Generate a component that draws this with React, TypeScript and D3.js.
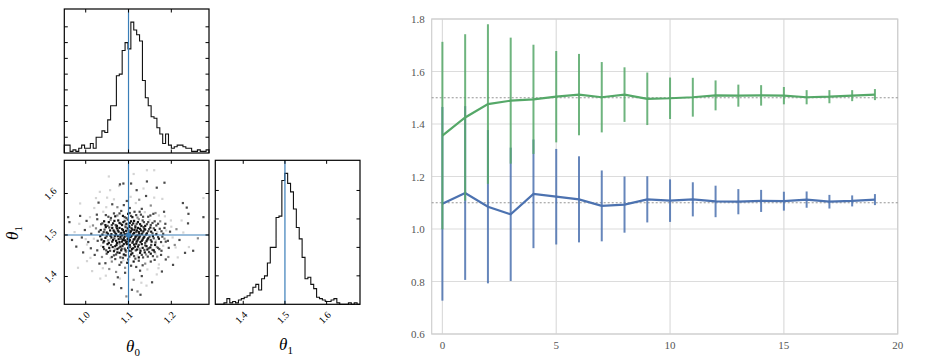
import * as d3 from 'd3';

// ---- right panel: running estimates with error bars ----
const STEPS = [0, 1, 2, 3, 4, 5, 6, 7, 8, 9, 10, 11, 12, 13, 14, 15, 16, 17, 18, 19];
const THETA1_MEAN = [1.356, 1.425, 1.476, 1.489, 1.494, 1.504, 1.512, 1.502, 1.512, 1.496, 1.498, 1.502, 1.509, 1.508, 1.509, 1.508, 1.502, 1.504, 1.508, 1.512];
const THETA1_ERR = [0.357, 0.317, 0.304, 0.24, 0.208, 0.174, 0.155, 0.134, 0.104, 0.1, 0.079, 0.074, 0.057, 0.042, 0.039, 0.033, 0.027, 0.025, 0.021, 0.021];
const THETA0_MEAN = [1.096, 1.137, 1.085, 1.056, 1.134, 1.123, 1.113, 1.088, 1.093, 1.113, 1.108, 1.113, 1.105, 1.104, 1.107, 1.106, 1.112, 1.104, 1.107, 1.112];
const THETA0_ERR = [0.369, 0.331, 0.292, 0.254, 0.207, 0.182, 0.164, 0.135, 0.107, 0.088, 0.081, 0.065, 0.06, 0.048, 0.042, 0.036, 0.031, 0.026, 0.021, 0.021];
const X_TICKS = [0, 5, 10, 15, 20];
const Y_TICKS = [0.6, 0.8, 1.0, 1.2, 1.4, 1.6, 1.8];
const TRUTHS = [1.1, 1.5];

// ---- corner plot ----
const RANGE0: [number, number] = [0.95, 1.288];
const RANGE1: [number, number] = [1.333, 1.68];
const HIST0 = [5, 5, 1, 2, 1, 3, 5, 3, 3, 6, 3, 10, 10, 14, 13, 21, 30, 30, 49, 50, 65, 70, 66, 83, 78, 75, 71, 46, 35, 30, 23, 22, 16, 12, 6, 12, 5, 3, 4, 5, 5, 4, 3, 3, 1, 1, 2, 1, 1, 2];
const HIST1 = [0, 0, 0, 1, 4, 1, 2, 1, 3, 4, 5, 6, 8, 12, 14, 10, 18, 20, 29, 40, 40, 61, 62, 87, 92, 85, 79, 67, 54, 46, 33, 18, 19, 14, 11, 5, 4, 3, 2, 2, 3, 4, 1, 0, 0, 0, 1, 0, 1, 0];
const TICKS0 = [1.0, 1.1, 1.2];
const TICKS1 = [1.4, 1.5, 1.6];
const COUNT_TICKS0 = [10, 20, 30, 40, 50, 60, 70, 80];
const COUNT_TICKS1 = [20, 40, 60, 80];

// samples: [theta0, theta1, shade 0..3]
const SAMPLES: [number, number, number][] = [
  [1.095, 1.352, 1], [1.128, 1.356, 2], [1.083, 1.372, 2], [1.108, 1.368, 2], [1.121, 1.364, 1], [1.142, 1.378, 0], [1.066, 1.381, 2], [1.155, 1.386, 2], [1.034, 1.395, 0],
  [1.047, 1.402, 0], [1.075, 1.398, 2], [1.112, 1.392, 1], [1.166, 1.405, 0], [1.178, 1.412, 2], [1.015, 1.413, 0], [1.092, 1.409, 2], [1.131, 1.401, 2], [1.204, 1.428, 2], [1.055, 1.418, 1], [1.144, 1.417, 0], [1.118, 1.423, 2], [0.982, 1.421, 0],
  [1.032, 1.431, 2], [1.061, 1.436, 1], [1.079, 1.428, 2], [1.097, 1.433, 3], [1.106, 1.426, 2], [1.124, 1.438, 2], [1.139, 1.431, 1], [1.152, 1.436, 2], [1.171, 1.429, 0], [1.187, 1.441, 2], [1.003, 1.437, 0], [1.069, 1.442, 2], [1.088, 1.439, 0], [1.215, 1.446, 0], [1.251, 1.462, 2],
  [1.021, 1.452, 2], [1.038, 1.447, 1], [1.049, 1.455, 2], [1.058, 1.444, 0], [1.066, 1.451, 2], [1.074, 1.458, 3], [1.081, 1.446, 2], [1.089, 1.453, 3], [1.094, 1.459, 1], [1.102, 1.448, 2], [1.109, 1.456, 3], [1.116, 1.443, 2], [1.121, 1.451, 0], [1.127, 1.457, 3], [1.134, 1.446, 2], [1.141, 1.453, 1], [1.148, 1.459, 2], [1.157, 1.449, 2], [1.163, 1.455, 0], [1.176, 1.452, 2], [1.193, 1.447, 1], [1.232, 1.457, 2], [0.994, 1.458, 2], [1.011, 1.445, 0], [1.099, 1.441, 2],
  [1.012, 1.468, 2], [1.027, 1.463, 2], [1.036, 1.474, 0], [1.043, 1.466, 2], [1.051, 1.478, 3], [1.057, 1.462, 2], [1.063, 1.471, 3], [1.068, 1.465, 1], [1.072, 1.476, 3], [1.077, 1.469, 2], [1.083, 1.463, 3], [1.086, 1.474, 3], [1.091, 1.467, 2], [1.096, 1.478, 3], [1.101, 1.462, 3], [1.104, 1.471, 2], [1.108, 1.466, 3], [1.113, 1.477, 3], [1.117, 1.463, 2], [1.122, 1.472, 3], [1.126, 1.467, 1], [1.131, 1.478, 3], [1.137, 1.464, 2], [1.142, 1.473, 3], [1.147, 1.468, 2], [1.153, 1.476, 2], [1.159, 1.463, 3], [1.166, 1.471, 1], [1.172, 1.466, 2], [1.181, 1.474, 0], [1.194, 1.469, 2], [1.208, 1.476, 1], [0.978, 1.472, 2], [1.003, 1.477, 0], [1.241, 1.471, 0], [1.079, 1.479, 1], [1.118, 1.479, 3],
  [0.968, 1.488, 2], [0.991, 1.494, 2], [1.006, 1.483, 2], [1.019, 1.491, 0], [1.028, 1.486, 2], [1.034, 1.497, 3], [1.041, 1.482, 2], [1.046, 1.493, 3], [1.052, 1.487, 1], [1.058, 1.498, 3], [1.062, 1.484, 3], [1.067, 1.492, 2], [1.071, 1.486, 3], [1.075, 1.497, 3], [1.079, 1.483, 3], [1.083, 1.491, 2], [1.087, 1.488, 3], [1.091, 1.496, 3], [1.094, 1.482, 3], [1.098, 1.49, 3], [1.102, 1.485, 3], [1.105, 1.495, 3], [1.109, 1.481, 2], [1.112, 1.489, 3], [1.116, 1.494, 3], [1.119, 1.484, 3], [1.123, 1.491, 3], [1.127, 1.497, 2], [1.131, 1.486, 3], [1.135, 1.493, 3], [1.139, 1.481, 2], [1.144, 1.489, 3], [1.149, 1.496, 2], [1.154, 1.484, 3], [1.159, 1.492, 2], [1.164, 1.487, 0], [1.169, 1.495, 2], [1.176, 1.483, 2], [1.184, 1.491, 1], [1.192, 1.486, 2], [1.203, 1.494, 0], [1.219, 1.488, 2], [1.262, 1.492, 1], [1.057, 1.489, 0], [1.085, 1.499, 3], [1.121, 1.499, 3], [1.097, 1.497, 2],
  [0.974, 1.507, 0], [0.998, 1.512, 2], [1.013, 1.503, 2], [1.024, 1.516, 1], [1.031, 1.508, 2], [1.039, 1.501, 3], [1.044, 1.513, 2], [1.049, 1.506, 3], [1.055, 1.518, 2], [1.06, 1.502, 3], [1.065, 1.511, 3], [1.069, 1.505, 2], [1.073, 1.516, 3], [1.077, 1.508, 3], [1.081, 1.501, 3], [1.085, 1.514, 3], [1.089, 1.507, 3], [1.093, 1.519, 2], [1.096, 1.503, 3], [1.1, 1.511, 3], [1.104, 1.506, 3], [1.107, 1.516, 3], [1.111, 1.502, 3], [1.114, 1.512, 3], [1.118, 1.507, 2], [1.122, 1.517, 3], [1.125, 1.503, 3], [1.129, 1.511, 3], [1.133, 1.506, 2], [1.137, 1.515, 3], [1.141, 1.501, 3], [1.146, 1.509, 2], [1.151, 1.518, 3], [1.156, 1.504, 2], [1.162, 1.512, 3], [1.167, 1.507, 0], [1.173, 1.515, 2], [1.181, 1.503, 2], [1.188, 1.511, 0], [1.197, 1.508, 2], [1.212, 1.514, 1], [1.228, 1.506, 0], [1.071, 1.519, 1], [1.102, 1.519, 3], [1.135, 1.519, 2],
  [0.962, 1.531, 2], [0.985, 1.527, 0], [1.002, 1.534, 2], [1.017, 1.523, 1], [1.027, 1.538, 2], [1.036, 1.526, 2], [1.043, 1.533, 3], [1.051, 1.522, 2], [1.058, 1.536, 1], [1.064, 1.528, 3], [1.07, 1.524, 2], [1.076, 1.535, 3], [1.082, 1.527, 2], [1.088, 1.531, 3], [1.093, 1.523, 1], [1.098, 1.537, 2], [1.103, 1.529, 3], [1.108, 1.524, 2], [1.113, 1.534, 3], [1.119, 1.527, 2], [1.124, 1.538, 1], [1.13, 1.522, 3], [1.136, 1.531, 2], [1.143, 1.526, 2], [1.149, 1.536, 0], [1.156, 1.529, 2], [1.165, 1.523, 2], [1.174, 1.533, 1], [1.186, 1.527, 2], [1.199, 1.535, 0], [1.224, 1.535, 0], [1.239, 1.528, 2],
  [0.959, 1.543, 2], [0.987, 1.546, 2], [1.01, 1.543, 0], [1.026, 1.549, 2], [1.041, 1.556, 0], [1.053, 1.544, 2], [1.066, 1.552, 2], [1.074, 1.547, 1], [1.083, 1.558, 2], [1.091, 1.543, 2], [1.099, 1.551, 3], [1.106, 1.546, 2], [1.114, 1.556, 2], [1.121, 1.542, 1], [1.129, 1.549, 2], [1.138, 1.555, 0], [1.146, 1.544, 2], [1.158, 1.551, 2], [1.171, 1.547, 0], [1.24, 1.551, 2], [1.275, 1.543, 2], [1.183, 1.556, 2],
  [0.987, 1.576, 0], [1.03, 1.578, 2], [1.048, 1.567, 0], [1.074, 1.567, 1], [1.089, 1.572, 2], [1.103, 1.565, 2], [1.117, 1.577, 0], [1.131, 1.563, 2], [1.152, 1.571, 1], [1.227, 1.577, 2], [1.236, 1.566, 2], [1.062, 1.574, 2],
  [1.024, 1.589, 0], [1.066, 1.586, 0], [1.096, 1.582, 2], [1.105, 1.592, 0], [1.141, 1.594, 2], [1.125, 1.585, 1], [1.275, 1.589, 0], [1.179, 1.587, 0],
  [1.033, 1.604, 0], [1.057, 1.608, 0], [1.08, 1.622, 2], [1.088, 1.624, 2], [1.078, 1.618, 0], [1.106, 1.624, 2], [1.119, 1.608, 2], [1.166, 1.614, 2], [1.143, 1.629, 2], [1.184, 1.626, 2], [1.135, 1.612, 0],
  [1.054, 1.641, 0], [1.143, 1.656, 0], [1.16, 1.656, 0], [1.112, 1.647, 0],
  // dense core
  [1.052, 1.459, 3], [1.061, 1.447, 2], [1.071, 1.453, 2], [1.079, 1.457, 3], [1.087, 1.445, 2], [1.093, 1.451, 3], [1.106, 1.453, 3], [1.113, 1.449, 2], [1.124, 1.446, 3], [1.131, 1.452, 2], [1.138, 1.458, 3], [1.145, 1.448, 2], [1.152, 1.455, 3], [1.161, 1.459, 2], [1.167, 1.448, 1],
  [1.041, 1.471, 3], [1.048, 1.463, 2], [1.055, 1.469, 3], [1.059, 1.476, 2], [1.066, 1.461, 3], [1.069, 1.473, 3], [1.074, 1.466, 3], [1.081, 1.472, 3], [1.084, 1.467, 2], [1.089, 1.478, 3], [1.093, 1.463, 3], [1.099, 1.469, 3], [1.103, 1.476, 3], [1.106, 1.461, 2], [1.111, 1.468, 3], [1.115, 1.472, 3], [1.12, 1.465, 3], [1.124, 1.476, 2], [1.128, 1.462, 3], [1.133, 1.469, 3], [1.139, 1.475, 2], [1.144, 1.465, 3], [1.151, 1.47, 3], [1.156, 1.464, 2], [1.162, 1.476, 3], [1.169, 1.469, 2], [1.177, 1.462, 2],
  [1.037, 1.489, 3], [1.043, 1.485, 3], [1.049, 1.497, 2], [1.054, 1.481, 3], [1.06, 1.494, 3], [1.064, 1.488, 3], [1.068, 1.498, 3], [1.073, 1.481, 3], [1.077, 1.49, 3], [1.081, 1.495, 3], [1.085, 1.484, 3], [1.089, 1.492, 3], [1.092, 1.487, 3], [1.096, 1.484, 3], [1.1, 1.493, 3], [1.103, 1.488, 3], [1.107, 1.498, 3], [1.11, 1.484, 3], [1.114, 1.49, 3], [1.117, 1.497, 3], [1.121, 1.487, 3], [1.125, 1.494, 3], [1.128, 1.483, 3], [1.133, 1.489, 3], [1.137, 1.496, 3], [1.142, 1.485, 3], [1.146, 1.492, 3], [1.152, 1.488, 2], [1.157, 1.497, 3], [1.163, 1.482, 2], [1.171, 1.491, 3], [1.179, 1.496, 2], [1.187, 1.484, 2],
  [1.035, 1.512, 3], [1.042, 1.507, 2], [1.047, 1.519, 3], [1.052, 1.503, 3], [1.057, 1.511, 3], [1.062, 1.517, 3], [1.067, 1.508, 3], [1.071, 1.502, 3], [1.075, 1.511, 3], [1.079, 1.517, 3], [1.083, 1.505, 3], [1.087, 1.512, 3], [1.091, 1.502, 3], [1.094, 1.51, 3], [1.098, 1.516, 3], [1.102, 1.501, 3], [1.106, 1.509, 3], [1.109, 1.513, 3], [1.113, 1.505, 3], [1.116, 1.518, 3], [1.12, 1.511, 3], [1.124, 1.507, 3], [1.127, 1.515, 3], [1.131, 1.502, 3], [1.135, 1.509, 3], [1.139, 1.513, 3], [1.143, 1.504, 3], [1.148, 1.514, 2], [1.153, 1.508, 3], [1.159, 1.516, 2], [1.165, 1.502, 3], [1.177, 1.509, 2], [1.184, 1.517, 2],
  [1.039, 1.528, 2], [1.046, 1.524, 3], [1.054, 1.531, 3], [1.061, 1.524, 2], [1.067, 1.534, 3], [1.073, 1.522, 3], [1.079, 1.529, 3], [1.085, 1.524, 3], [1.091, 1.534, 2], [1.095, 1.527, 3], [1.101, 1.522, 3], [1.106, 1.533, 3], [1.111, 1.528, 3], [1.116, 1.522, 2], [1.122, 1.531, 3], [1.127, 1.526, 3], [1.133, 1.535, 2], [1.139, 1.522, 3], [1.146, 1.531, 2], [1.152, 1.524, 2], [1.161, 1.533, 2], [1.169, 1.527, 2],
  [1.047, 1.548, 2], [1.059, 1.541, 2], [1.069, 1.545, 3], [1.079, 1.552, 2], [1.087, 1.546, 3], [1.095, 1.541, 2], [1.103, 1.553, 2], [1.109, 1.543, 3], [1.118, 1.548, 2], [1.126, 1.556, 2], [1.134, 1.544, 2], [1.151, 1.547, 2], [1.163, 1.553, 1],
  [1.046, 1.432, 2], [1.083, 1.434, 2], [1.112, 1.436, 3], [1.133, 1.427, 2], [1.161, 1.44, 2], [1.092, 1.421, 1], [1.127, 1.414, 2], [1.071, 1.411, 1],
  // faint halo
  [1.0, 1.49, 0], [1.01, 1.52, 0], [1.2, 1.52, 0], [1.21, 1.47, 0], [1.05, 1.59, 0], [1.16, 1.59, 0], [1.04, 1.42, 0], [1.17, 1.42, 0], [1.13, 1.385, 0], [1.08, 1.395, 0], [1.185, 1.545, 0], [1.02, 1.565, 0],
];

const SHADES = ['#d4d4d4', '#8a8a8a', '#4a4a4a', '#151515'];
const GREEN = '#55a868';
const BLUE = '#4c72b0';
const TRUTH_COLOR = '#3a7eb8';
const SERIF = '"Liberation Serif", "DejaVu Serif", serif';

const PANEL_W = 144.7;
const PANEL_H = 144;
const TICK = 3.5;

function stepPath(counts: number[], x: d3.ScaleLinear<number, number>, y: d3.ScaleLinear<number, number>) {
  const [a, b] = x.domain();
  const bw = (b - a) / counts.length;
  let d = `M${x(a)},${y(0)}`;
  counts.forEach((c, i) => {
    d += `L${x(a + i * bw)},${y(c)}L${x(a + (i + 1) * bw)},${y(c)}`;
  });
  return d + `L${x(b)},${y(0)}`;
}

function RotLabel({ x, y, text }: { x: number; y: number; text: string }) {
  return (
    <text transform={`translate(${x},${y}) rotate(-45)`} textAnchor="middle" dominantBaseline="central" fontSize={10} fontFamily={SERIF}>
      {text}
    </text>
  );
}

function Theta({ x, y, sub, rotate = 0 }: { x: number; y: number; sub: string; rotate?: number }) {
  return (
    <text transform={`translate(${x},${y}) rotate(${rotate})`} textAnchor="middle" fontFamily={SERIF} fontSize={17} fontStyle="italic">
      θ<tspan fontSize={11} fontStyle="normal" dy={4}>{sub}</tspan>
    </text>
  );
}

function HistPanel({ left, top, counts, range, truth, xTicks, countTicks, labels }: {
  left: number; top: number; counts: number[]; range: [number, number]; truth: number;
  xTicks: number[]; countTicks: number[]; labels: boolean;
}) {
  const x = d3.scaleLinear().domain(range).range([left, left + PANEL_W]);
  const y = d3.scaleLinear().domain([0, 1.1 * (d3.max(counts) ?? 1)]).range([top + PANEL_H, top]);
  const bottom = top + PANEL_H;
  const right = left + PANEL_W;
  return (
    <g>
      <path d={stepPath(counts, x, y)} fill="none" stroke="#111" strokeWidth={1.1} />
      <line x1={x(truth)} x2={x(truth)} y1={top} y2={bottom} stroke={TRUTH_COLOR} strokeWidth={1.2} />
      {xTicks.map((t) => (
        <g key={t}>
          <line x1={x(t)} x2={x(t)} y1={top} y2={top + TICK} stroke="#000" />
          <line x1={x(t)} x2={x(t)} y1={bottom} y2={bottom - TICK} stroke="#000" />
          {labels && <RotLabel x={x(t) - 2} y={bottom + 13} text={t.toFixed(1)} />}
        </g>
      ))}
      {countTicks.map((c) => (
        <g key={c}>
          <line x1={left} x2={left + TICK} y1={y(c)} y2={y(c)} stroke="#000" />
          <line x1={right} x2={right - TICK} y1={y(c)} y2={y(c)} stroke="#000" />
        </g>
      ))}
      <rect x={left} y={top} width={PANEL_W} height={PANEL_H} fill="none" stroke="#000" strokeWidth={1.2} />
    </g>
  );
}

function ScatterPanel({ left, top }: { left: number; top: number }) {
  const x = d3.scaleLinear().domain(RANGE0).range([left, left + PANEL_W]);
  const y = d3.scaleLinear().domain(RANGE1).range([top + PANEL_H, top]);
  const bottom = top + PANEL_H;
  const right = left + PANEL_W;
  return (
    <g>
      <clipPath id="scatter-clip">
        <rect x={left} y={top} width={PANEL_W} height={PANEL_H} />
      </clipPath>
      <g clipPath="url(#scatter-clip)">
        {[0, 1, 2, 3].map((shade) =>
          SAMPLES.filter((s) => s[2] === shade).map((s, i) => (
            <rect key={`${shade}-${i}`} x={x(s[0]) - 1.1} y={y(s[1]) - 1.1} width={2.2} height={2.2} fill={SHADES[shade]} />
          )),
        )}
        <line x1={x(TRUTHS[0])} x2={x(TRUTHS[0])} y1={top} y2={bottom} stroke={TRUTH_COLOR} strokeWidth={1.2} />
        <line x1={left} x2={right} y1={y(TRUTHS[1])} y2={y(TRUTHS[1])} stroke={TRUTH_COLOR} strokeWidth={1.2} />
        <circle cx={x(TRUTHS[0])} cy={y(TRUTHS[1])} r={2.6} fill={TRUTH_COLOR} />
      </g>
      {TICKS0.map((t) => (
        <g key={t}>
          <line x1={x(t)} x2={x(t)} y1={top} y2={top + TICK} stroke="#000" />
          <line x1={x(t)} x2={x(t)} y1={bottom} y2={bottom - TICK} stroke="#000" />
          <RotLabel x={x(t) - 2} y={bottom + 13} text={t.toFixed(1)} />
        </g>
      ))}
      {TICKS1.map((t) => (
        <g key={t}>
          <line x1={left} x2={left + TICK} y1={y(t)} y2={y(t)} stroke="#000" />
          <line x1={right} x2={right - TICK} y1={y(t)} y2={y(t)} stroke="#000" />
          <RotLabel x={left - 14} y={y(t)} text={t.toFixed(1)} />
        </g>
      ))}
      <rect x={left} y={top} width={PANEL_W} height={PANEL_H} fill="none" stroke="#000" strokeWidth={1.2} />
    </g>
  );
}

function ErrorChart() {
  const left = 431.7, right = 897.7, top = 19, bottom = 334;
  const x = d3.scaleLinear().domain([-0.47, 20]).range([left, right]);
  const y = d3.scaleLinear().domain([0.6, 1.8]).range([bottom, top]);
  const line = d3.line<number>().x((_, i) => x(STEPS[i])).y((d) => y(d));
  const series = [
    { mean: THETA0_MEAN, err: THETA0_ERR, color: BLUE },
    { mean: THETA1_MEAN, err: THETA1_ERR, color: GREEN },
  ];
  return (
    <g>
      {Y_TICKS.map((t) => (
        <g key={t}>
          <line x1={left} x2={right} y1={y(t)} y2={y(t)} stroke="#dcdcdc" strokeWidth={1.2} />
          <text x={left - 7} y={y(t)} textAnchor="end" dominantBaseline="central" fontSize={11} fontFamily={SERIF} fill="#555">
            {t.toFixed(1)}
          </text>
        </g>
      ))}
      {X_TICKS.map((t) => (
        <g key={t}>
          <line x1={x(t)} x2={x(t)} y1={top} y2={bottom} stroke="#dcdcdc" strokeWidth={1.2} />
          <text x={x(t)} y={bottom + 15} textAnchor="middle" fontSize={11} fontFamily={SERIF} fill="#555">
            {t}
          </text>
        </g>
      ))}
      <rect x={left} y={top} width={right - left} height={bottom - top} fill="none" stroke="#cfcfcf" strokeWidth={1.2} />
      {TRUTHS.map((t) => (
        <line key={t} x1={left} x2={right} y1={y(t)} y2={y(t)} stroke="#888" strokeWidth={0.9} strokeDasharray="2,2" />
      ))}
      {series.map((s) => (
        <g key={s.color}>
          {s.mean.map((m, i) => (
            <line key={i} x1={x(STEPS[i])} x2={x(STEPS[i])} y1={y(m - s.err[i])} y2={y(m + s.err[i])} stroke={s.color} strokeWidth={2} opacity={0.85} />
          ))}
          <path d={line(s.mean) ?? ''} fill="none" stroke={s.color} strokeWidth={2.2} />
        </g>
      ))}
    </g>
  );
}

export default function App() {
  return (
    <svg width={949} height={363} style={{ position: 'absolute', left: 0, top: 0, background: '#fff' }}>
      <HistPanel left={64.3} top={9} counts={HIST0} range={RANGE0} truth={TRUTHS[0]} xTicks={TICKS0} countTicks={COUNT_TICKS0} labels={false} />
      <ScatterPanel left={64.3} top={160.3} />
      <HistPanel left={215.3} top={160.3} counts={HIST1} range={RANGE1} truth={TRUTHS[1]} xTicks={TICKS1} countTicks={COUNT_TICKS1} labels={true} />
      <Theta x={133} y={352} sub="0" />
      <Theta x={286} y={350} sub="1" />
      <Theta x={18} y={233} sub="1" rotate={-90} />
      <ErrorChart />
    </svg>
  );
}
